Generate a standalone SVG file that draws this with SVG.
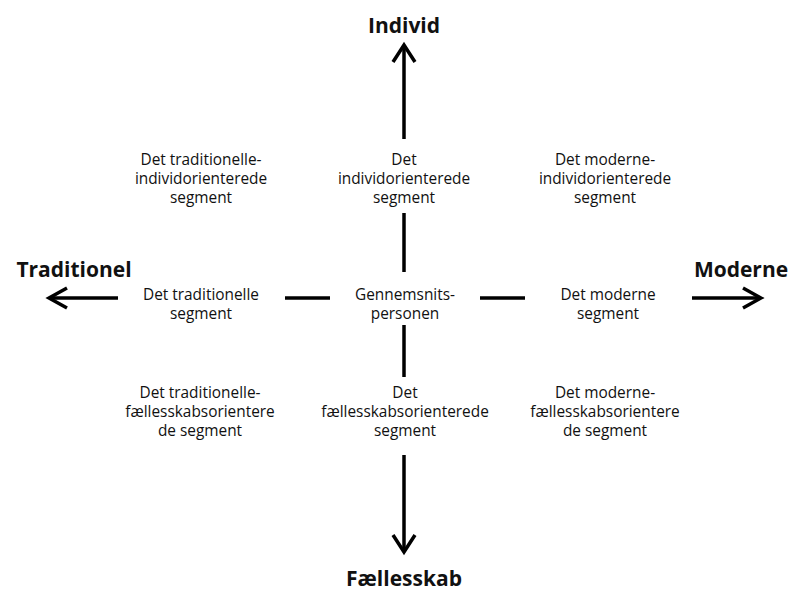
<svg xmlns="http://www.w3.org/2000/svg" width="790" height="593" viewBox="0 0 790 593">
<style>
.t{font-family:"Open Sans","Noto Sans",sans-serif;font-size:15.4px;fill:#111;text-anchor:middle}
.b{font-family:"Open Sans","Noto Sans",sans-serif;font-size:21px;font-weight:bold;fill:#111;text-anchor:middle}
.l{stroke:#000;stroke-width:3.5;fill:none}
</style>
<rect width="790" height="593" fill="#fff"/>
<g id="connectors">
<line class="l" x1="404" y1="139" x2="404" y2="45"/>
<polyline class="l" points="393,62 404,45 415,62"/>
<line class="l" x1="404" y1="213" x2="404" y2="272"/>
<line class="l" x1="404" y1="325" x2="404" y2="377"/>
<line class="l" x1="404" y1="455" x2="404" y2="552"/>
<polyline class="l" points="393,535 404,552 415,535"/>
<line class="l" x1="118" y1="298" x2="49" y2="298"/>
<polyline class="l" points="67,288 49,298 67,308"/>
<line class="l" x1="285" y1="298" x2="330" y2="298"/>
<line class="l" x1="480" y1="298" x2="525" y2="298"/>
<line class="l" x1="692" y1="298" x2="761" y2="298"/>
<polyline class="l" points="743,288 761,298 743,308"/>
</g>
<g id="n-individ"><text class="b" x="404" y="33">Individ</text></g>
<g id="n-traditionel"><text class="b" x="74" y="277">Traditionel</text></g>
<g id="n-moderne"><text class="b" x="741" y="277">Moderne</text></g>
<g id="n-faellesskab"><text class="b" x="404" y="586">Fællesskab</text></g>
<g id="n-trad-ind"><text class="t" x="201" y="165">Det traditionelle-</text><text class="t" x="201" y="184">individorienterede</text><text class="t" x="201" y="203">segment</text></g>
<g id="n-ind"><text class="t" x="404" y="165">Det</text><text class="t" x="404" y="184">individorienterede</text><text class="t" x="404" y="203">segment</text></g>
<g id="n-mod-ind"><text class="t" x="605" y="165">Det moderne-</text><text class="t" x="605" y="184">individorienterede</text><text class="t" x="605" y="203">segment</text></g>
<g id="n-trad"><text class="t" x="201" y="300">Det traditionelle</text><text class="t" x="201" y="319">segment</text></g>
<g id="n-gen"><text class="t" x="405" y="300">Gennemsnits-</text><text class="t" x="405" y="319">personen</text></g>
<g id="n-mod"><text class="t" x="608" y="300">Det moderne</text><text class="t" x="608" y="319">segment</text></g>
<g id="n-trad-fael"><text class="t" x="200" y="398">Det traditionelle-</text><text class="t" x="200" y="417">fællesskabsorientere</text><text class="t" x="200" y="436">de segment</text></g>
<g id="n-fael"><text class="t" x="405" y="398">Det</text><text class="t" x="405" y="417">fællesskabsorienterede</text><text class="t" x="405" y="436">segment</text></g>
<g id="n-mod-fael"><text class="t" x="605" y="398">Det moderne-</text><text class="t" x="605" y="417">fællesskabsorientere</text><text class="t" x="605" y="436">de segment</text></g>
</svg>
